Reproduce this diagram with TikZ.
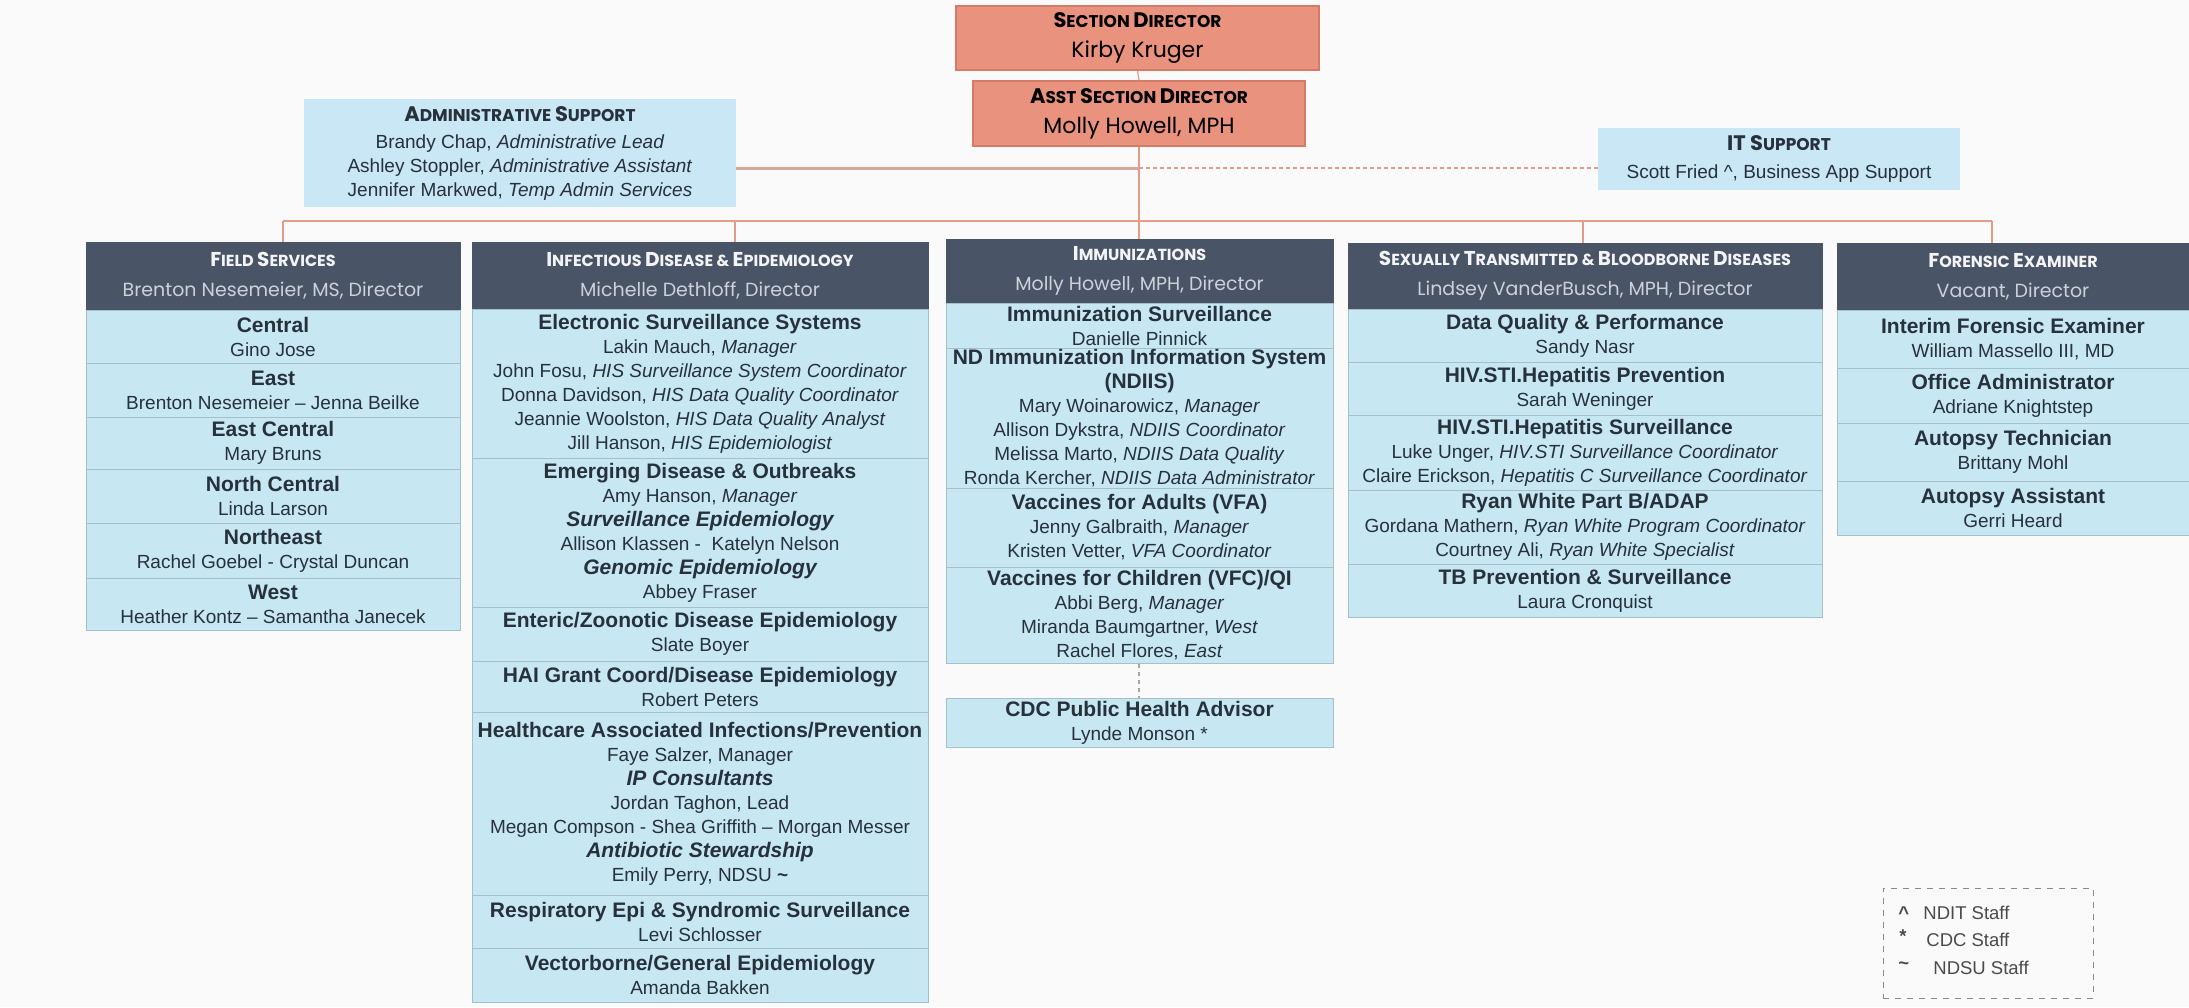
\documentclass[tikz,border=0pt]{standalone}
\usepackage{fontspec}
\setmainfont{Liberation Sans}
\newfontfamily\pop{Poppins}
\definecolor{bg}{HTML}{FAFAFA}
\definecolor{rowblue}{HTML}{C7E7F3}
\definecolor{rowline}{HTML}{A6C0CB}
\definecolor{supblue}{HTML}{C9E7F4}
\definecolor{hdrblue}{HTML}{4A5467}
\definecolor{hdrtitle}{HTML}{F3F4F6}
\definecolor{hdrname}{HTML}{CDD2D9}
\definecolor{salmon}{HTML}{E9927E}
\definecolor{salmonline}{HTML}{D47B67}
\definecolor{conn}{HTML}{E39C87}
\definecolor{connadm}{HTML}{D9A596}
\definecolor{bodytxt}{HTML}{26313C}
\definecolor{leggray}{HTML}{8A8A8A}
\definecolor{legtext}{HTML}{4A4A4A}
\newcommand\bodyf{\fontsize{9.5}{12}\selectfont}
\newcommand\hdrf{\pop\fontsize{9.5}{15}\selectfont}
\newcommand\topf{\pop\fontsize{11}{15}\selectfont}
\newcommand\legf{\fontsize{9.25}{11}\selectfont}
\newcommand\Tt[1]{{\bfseries\fontsize{10.5}{12}\selectfont #1}}
\newcommand\Ti[1]{{\bfseries\itshape\fontsize{10.5}{12}\selectfont #1}}
\newcommand\Iz[1]{\textit{#1}}
\newcommand\hb[1]{{\fontsize{10}{15}\selectfont #1}}
\newcommand\hs[1]{{\fontsize{8}{15}\selectfont\bfseries #1}}
\newcommand\tb[1]{{\fontsize{10.5}{15}\selectfont #1}}
\newcommand\ts[1]{{\fontsize{8.5}{15}\selectfont\bfseries #1}}
\newcommand\hn[1]{{\color{hdrname}#1}}
\newcommand\Bx[7]{\node[#2, minimum width={(#5-#3)*0.5pt}, minimum height={(#6-#4)*0.5pt}] (#1) at ({(#3+#5)/2},{(#4+#6)/2}) {#7};}
\tikzset{
  every node/.style={inner sep=0pt},
  rowbox/.style={draw=rowline, line width=0.5pt, fill=rowblue, align=center, text=bodytxt, font=\bodyf},
  hdrbox/.style={draw=hdrblue, line width=0.5pt, fill=hdrblue, align=center, text=hdrtitle, font=\hdrf},
  topbox/.style={draw=salmonline, line width=0.6pt, fill=salmon, align=center, text=black, font=\topf},
  supbox/.style={draw=none, fill=supblue, align=center, text=bodytxt, font=\bodyf},
  legbox/.style={draw=leggray, dashed, line width=0.5pt},
  legtxt/.style={text=legtext, font=\legf, anchor=west},
  drop/.style={draw=conn, line width=0.6pt},
  busline/.style={draw=conn, line width=1.1pt},
  admline/.style={draw=connadm, line width=1.5pt},
  itline/.style={draw=conn, line width=0.8pt, dash pattern=on 2pt off 1.5pt},
  cdcline/.style={draw=gray!70, line width=0.6pt, dash pattern=on 2pt off 2pt},
}
\begin{document}
\begin{tikzpicture}[x=0.5pt,y=-0.5pt]
\useasboundingbox (0,0) rectangle (2189,1007);
\fill[bg] (0,0) rectangle (2189,1007);
% top boxes
\Bx{sd}{topbox}{956}{6}{1319}{70}{\ts{\tb{S}ECTION \tb{D}IRECTOR}\\Kirby Kruger}
\Bx{asd}{topbox}{973}{81}{1305}{146}{\ts{\tb{A}SST \tb{S}ECTION \tb{D}IRECTOR}\\Molly Howell, MPH}
\Bx{adm}{supbox}{304}{99}{736}{207}{{\pop\ts{\tb{A}DMINISTRATIVE \tb{S}UPPORT}}\\[1.5pt]Brandy Chap, \Iz{Administrative Lead}\\Ashley Stoppler, \Iz{Administrative Assistant}\\Jennifer Markwed, \Iz{Temp Admin Services}}
\Bx{it}{supbox}{1598}{128}{1960}{190}{{\pop\ts{\tb{IT S}UPPORT}}\\[2pt]Scott Fried \textasciicircum, Business App Support}
% Field services
\Bx{fsh}{hdrbox}{86}{242}{460}{310}{\hs{\hb{F}IELD \hb{S}ERVICES}\\\hn{Brenton Nesemeier, MS, Director}}
\Bx{fs1}{rowbox}{86}{310}{460}{363}{\Tt{Central}\\Gino Jose}
\Bx{fs2}{rowbox}{86}{363}{460}{417}{\Tt{East}\\Brenton Nesemeier – Jenna Beilke}
\Bx{fs3}{rowbox}{86}{417}{460}{469}{\Tt{East Central}\\Mary Bruns}
\Bx{fs4}{rowbox}{86}{469}{460}{523}{\Tt{North Central}\\Linda Larson}
\Bx{fs5}{rowbox}{86}{523}{460}{578}{\Tt{Northeast}\\Rachel Goebel - Crystal Duncan}
\Bx{fs6}{rowbox}{86}{578}{460}{630}{\Tt{West}\\Heather Kontz – Samantha Janecek}
% Infectious disease
\Bx{ideh}{hdrbox}{472}{242}{928}{309}{\hs{\hb{I}NFECTIOUS \hb{D}ISEASE \& \hb{E}PIDEMIOLOGY}\\\hn{Michelle Dethloff, Director}}
\Bx{ide1}{rowbox}{472}{309}{928}{458}{\Tt{Electronic Surveillance Systems}\\Lakin Mauch, \Iz{Manager}\\John Fosu, \Iz{HIS Surveillance System Coordinator}\\Donna Davidson, \Iz{HIS Data Quality Coordinator}\\Jeannie Woolston, \Iz{HIS Data Quality Analyst}\\Jill Hanson, \Iz{HIS Epidemiologist}}
\Bx{ide2}{rowbox}{472}{458}{928}{607}{\Tt{Emerging Disease \& Outbreaks}\\Amy Hanson, \Iz{Manager}\\\Ti{Surveillance Epidemiology}\\Allison Klassen -\ \ Katelyn Nelson\\\Ti{Genomic Epidemiology}\\Abbey Fraser}
\Bx{ide3}{rowbox}{472}{607}{928}{661}{\Tt{Enteric/Zoonotic Disease Epidemiology}\\Slate Boyer}
\Bx{ide4}{rowbox}{472}{661}{928}{712}{\Tt{HAI Grant Coord/Disease Epidemiology}\\Robert Peters}
\Bx{ide5}{rowbox}{472}{712}{928}{895}{\Tt{Healthcare Associated Infections/Prevention}\\Faye Salzer, Manager\\\Ti{IP Consultants}\\Jordan Taghon, Lead\\Megan Compson - Shea Griffith – Morgan Messer\\\Ti{Antibiotic Stewardship}\\Emily Perry, NDSU \textbf{\textasciitilde}}
\Bx{ide6}{rowbox}{472}{895}{928}{948}{\Tt{Respiratory Epi \& Syndromic Surveillance}\\Levi Schlosser}
\Bx{ide7}{rowbox}{472}{948}{928}{1002}{\Tt{Vectorborne/General Epidemiology}\\Amanda Bakken}
% Immunizations
\Bx{imh}{hdrbox}{946}{239}{1333}{303}{\hs{\hb{I}MMUNIZATIONS}\\\hn{Molly Howell, MPH, Director}}
\Bx{im1}{rowbox}{946}{303}{1333}{348}{\Tt{Immunization Surveillance}\\Danielle Pinnick}
\Bx{im2}{rowbox}{946}{348}{1333}{488}{\Tt{ND Immunization Information System}\\\Tt{(NDIIS)}\\Mary Woinarowicz, \Iz{Manager}\\Allison Dykstra, \Iz{NDIIS Coordinator}\\Melissa Marto, \Iz{NDIIS Data Quality}\\Ronda Kercher, \Iz{NDIIS Data Administrator}}
\Bx{im3}{rowbox}{946}{488}{1333}{567}{\Tt{Vaccines for Adults (VFA)}\\Jenny Galbraith, \Iz{Manager}\\Kristen Vetter, \Iz{VFA Coordinator}}
\Bx{im4}{rowbox}{946}{567}{1333}{663}{\Tt{Vaccines for Children (VFC)/QI}\\Abbi Berg, \Iz{Manager}\\Miranda Baumgartner, \Iz{West}\\Rachel Flores, \Iz{East}}
\Bx{cdc}{rowbox}{946}{698}{1333}{747}{\Tt{CDC Public Health Advisor}\\Lynde Monson *}
% STBD
\Bx{sth}{hdrbox}{1348}{243}{1822}{309}{\hs{\hb{S}EXUALLY \hb{T}RANSMITTED \& \hb{B}LOODBORNE \hb{D}ISEASES}\\\hn{Lindsey VanderBusch, MPH, Director}}
\Bx{st1}{rowbox}{1348}{309}{1822}{362}{\Tt{Data Quality \& Performance}\\Sandy Nasr}
\Bx{st2}{rowbox}{1348}{362}{1822}{415}{\Tt{HIV.STI.Hepatitis Prevention}\\Sarah Weninger}
\Bx{st3}{rowbox}{1348}{415}{1822}{490}{\Tt{HIV.STI.Hepatitis Surveillance}\\Luke Unger, \Iz{HIV.STI Surveillance Coordinator}\\Claire Erickson, \Iz{Hepatitis C Surveillance Coordinator}}
\Bx{st4}{rowbox}{1348}{490}{1822}{564}{\Tt{Ryan White Part B/ADAP}\\Gordana Mathern, \Iz{Ryan White Program Coordinator}\\Courtney Ali, \Iz{Ryan White Specialist}}
\Bx{st5}{rowbox}{1348}{564}{1822}{617}{\Tt{TB Prevention \& Surveillance}\\Laura Cronquist}
% Forensic
\Bx{feh}{hdrbox}{1837}{243}{2189}{310}{\hs{\hb{F}ORENSIC \hb{E}XAMINER}\\\hn{Vacant, Director}}
\Bx{fe1}{rowbox}{1837}{310}{2189}{368}{\Tt{Interim Forensic Examiner}\\William Massello III, MD}
\Bx{fe2}{rowbox}{1837}{368}{2189}{423}{\Tt{Office Administrator}\\Adriane Knightstep}
\Bx{fe3}{rowbox}{1837}{423}{2189}{481}{\Tt{Autopsy Technician}\\Brittany Mohl}
\Bx{fe4}{rowbox}{1837}{481}{2189}{535}{\Tt{Autopsy Assistant}\\Gerri Heard}
% legend
\Bx{lg}{legbox}{1883}{888}{2093}{998}{}
\node[legtxt] (l1s) at (1898,913) {\textbf{\textasciicircum}};
\node[legtxt] (l1) at (1923,913) {NDIT Staff};
\node[legtxt] (l2s) at (1899,936) {\textbf{*}};
\node[legtxt] (l2) at (1926,940) {CDC Staff};
\node[legtxt] (l3s) at (1898,966) {\textbf{\textasciitilde}};
\node[legtxt] (l3) at (1933,968) {NDSU Staff};
% connectors
\coordinate (b1) at (283,221);
\coordinate (b2) at (735,221);
\coordinate (b3) at (1139,221);
\coordinate (b4) at (1583,221);
\coordinate (b5) at (1992,221);
\coordinate (aj) at (1139,168);
\draw[drop] (sd.south) -- (asd.north);
\draw[drop] (asd.south) -- (b3 |- imh.north);
\draw[busline] (b1) -- (b5);
\draw[drop] (b1) -- (b1 |- fsh.north);
\draw[drop] (b2) -- (b2 |- ideh.north);
\draw[drop] (b4) -- (b4 |- sth.north);
\draw[drop] (b5) -- (b5 |- feh.north);
\draw[admline] (adm.east |- aj) -- (aj);
\draw[itline] (aj) -- (it.west |- aj);
\draw[cdcline] (b3 |- im4.south) -- (b3 |- cdc.north);
\end{tikzpicture}
\end{document}
